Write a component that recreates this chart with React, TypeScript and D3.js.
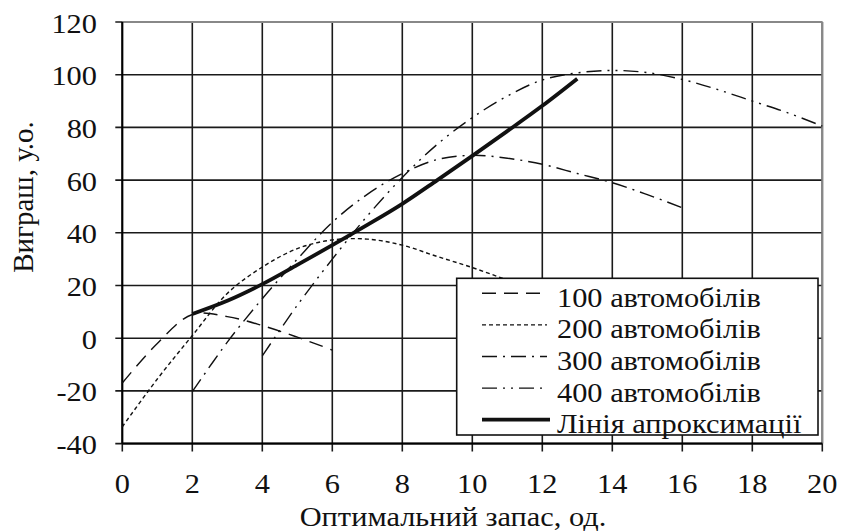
import * as d3 from "d3";

// x values (optimal stock, units) and profit values for each fleet size
const x100 = [0, 1, 2, 3, 4, 5, 6];
const v100 = [-17, -2, 9, 8.2, 4.8, 0.4, -4.5];

const x200 = [0, 1, 2, 3, 4, 5, 6, 7, 8, 9, 10, 11, 12];
const v200 = [-33.6, -15.5, 1, 17, 27, 34, 37.3, 37.6, 35.3, 31, 26.8, 22, 16.5];

const x300 = [2, 3, 4, 5, 6, 7, 8, 9, 10, 11, 12, 13, 14, 15, 16];
const v300 = [-20.3, -1.5, 15, 30, 44, 54.6, 62.5, 67.8, 69.4, 68.3, 66, 62.5, 59, 54.5, 49.5];

const x400 = [4, 5, 6, 7, 8, 9, 10, 11, 12, 13, 14, 15, 16, 17, 18, 19, 20];
const v400 = [-6.7, 12.5, 30, 46.4, 61, 73.6, 83.7, 91.9, 98, 100.7, 101.6, 100.8, 98.2, 94.4, 90, 85.6, 80.5];

const xApprox = [2, 3, 4, 5, 6, 7, 8, 9, 10, 11, 12, 13];
const vApprox = [9.2, 14.2, 20.5, 27.8, 35.3, 43, 51, 60, 69.2, 78.6, 88.2, 98.5];

const seriesNames = ["100 автомобілів", "200 автомобілів", "300 автомобілів", "400 автомобілів", "Лінія апроксимації"];
const xTicks = [0, 2, 4, 6, 8, 10, 12, 14, 16, 18, 20];
const yTicks = [-40, -20, 0, 20, 40, 60, 80, 100, 120];

const xTitle = "Оптимальний запас, од.";
const yTitle = "Виграш, у.о.";

const series = [
    { xs: x100, vs: v100, dash: "14,8", w: 1.4 },
    { xs: x200, vs: v200, dash: "4,3", w: 1.4 },
    { xs: x300, vs: v300, dash: "15,6,2,6", w: 1.4 },
    { xs: x400, vs: v400, dash: "15,6,2,6,2,6", w: 1.4 },
    { xs: xApprox, vs: vApprox, dash: undefined, w: 3.8 },
];

// the scan is slightly wider than tall, so horizontal text gets a small x stretch
const SX = 1.085;

export default function App() {
    const width = 843, height = 531;
    const font = "Liberation Serif";

    const x = d3.scaleLinear().domain([0, 20]).range([122.3, 822.3]);
    const y = d3.scaleLinear().domain([-40, 120]).range([443.6, 22]);
    const [x0, x1] = x.range();
    const [yb, yt] = y.range();

    const line = d3.line<[number, number]>()
        .x(d => x(d[0])).y(d => y(d[1]))
        .curve(d3.curveCatmullRom.alpha(0.5));

    const at = (px: number, py: number) => `translate(${px},${py}) scale(${SX},1)`;

    return (
        <svg width={width} height={height}
            style={{ position: "absolute", left: 0, top: 0, background: "#fff" }}>
            {/* grid + ticks */}
            <g stroke="#1a1a1a" strokeWidth={1.6}>
                {xTicks.map(t => (
                    <line key={"gx" + t} x1={x(t)} x2={x(t)} y1={yt} y2={yb + 8} />
                ))}
                {yTicks.map(t => (
                    <line key={"gy" + t} x1={x0 - 7} x2={x1} y1={y(t)} y2={y(t)} />
                ))}
            </g>
            {/* grey top/right frame, black axes */}
            <line x1={x0} x2={x1} y1={yt} y2={yt} stroke="#888" strokeWidth={2} />
            <line x1={x1} x2={x1} y1={yt} y2={yb} stroke="#888" strokeWidth={2} />
            <line x1={x0} x2={x1} y1={yb} y2={yb} stroke="#000" strokeWidth={2} />
            <line x1={x0} x2={x0} y1={yt} y2={yb} stroke="#000" strokeWidth={2} />

            {/* tick labels */}
            {yTicks.map(t => (
                <text key={"ly" + t} transform={at(97, y(t) + 10.5)} textAnchor="end"
                    fontFamily={font} fontSize={28} fill="#111">{t}</text>
            ))}
            {xTicks.map(t => (
                <text key={"lx" + t} transform={at(x(t), 493)} textAnchor="middle"
                    fontFamily={font} fontSize={28} fill="#111">{t}</text>
            ))}

            {/* axis titles */}
            <text transform={at(453, 526)} textAnchor="middle" fontFamily={font} fontSize={28} fill="#111">{xTitle}</text>
            <text transform="translate(33,197) rotate(-90)" textAnchor="middle"
                fontFamily={font} fontSize={29} fill="#111">{yTitle}</text>

            {/* series */}
            {series.map((s, i) => (
                <path key={"s" + i}
                    d={line(s.xs.map((v, j) => [v, s.vs[j]] as [number, number])) ?? ""}
                    fill="none" stroke="#111" strokeWidth={s.w} strokeDasharray={s.dash} />
            ))}

            {/* legend */}
            <rect x={456.7} y={278.3} width={361.3} height={156.7}
                fill="#fff" stroke="#111" strokeWidth={1.6} />
            {seriesNames.map((name, i) => {
                const s = series[i];
                const ly = 293.3 + i * 31.6;
                return (
                    <g key={"lg" + i}>
                        <line x1={482} x2={i === 0 ? 540 : i === 4 ? 550 : 547} y1={ly} y2={ly}
                            stroke="#111" strokeWidth={s.w} strokeDasharray={s.dash} />
                        <text transform={at(557, ly + 13.4)} fontFamily={font} fontSize={28} fill="#111">{name}</text>
                    </g>
                );
            })}
        </svg>
    );
}
